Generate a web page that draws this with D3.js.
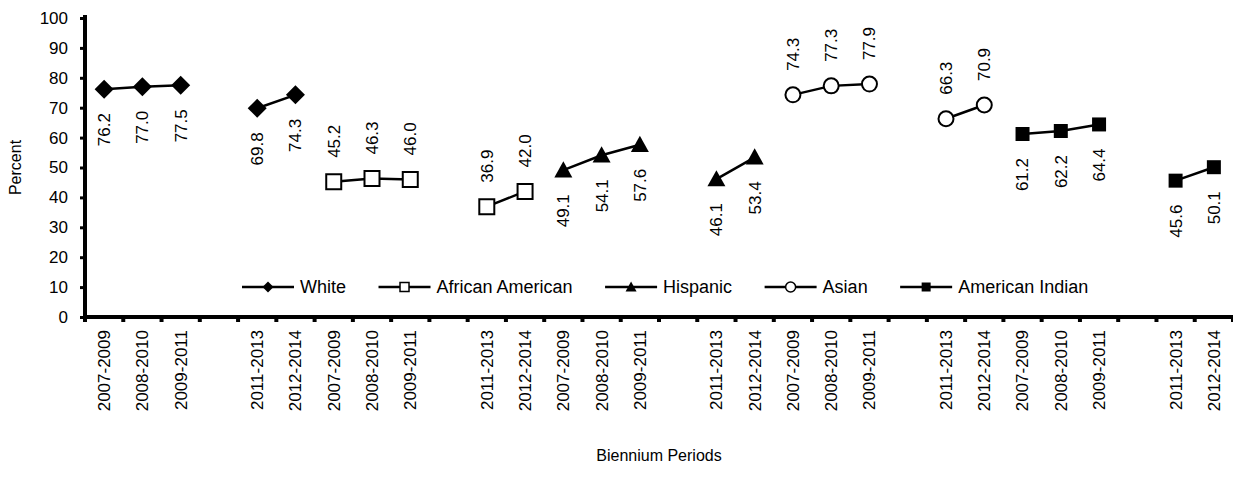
<!DOCTYPE html>
<html>
<head>
<meta charset="utf-8">
<script src="https://cdn.jsdelivr.net/npm/d3@7/dist/d3.min.js"></script>
<style>
  html, body { margin: 0; padding: 0; background: #fff; }
  svg { display: block; font-family: Arial, "Liberation Sans", sans-serif; }
</style>
</head>
<body>
<svg id="chart" width="1233" height="487"></svg>
<script>
// ---------- DATA ----------
const tickLabels = [
  "2007-2009","2008-2010","2009-2011","","2011-2013","2012-2014",
  "2007-2009","2008-2010","2009-2011","","2011-2013","2012-2014",
  "2007-2009","2008-2010","2009-2011","","2011-2013","2012-2014",
  "2007-2009","2008-2010","2009-2011","","2011-2013","2012-2014",
  "2007-2009","2008-2010","2009-2011","","2011-2013","2012-2014"
];
const seriesNames = ["White", "African American", "Hispanic", "Asian", "American Indian"];
const white           = [76.2, 77.0, 77.5, null, 69.8, 74.3];
const africanAmerican = [45.2, 46.3, 46.0, null, 36.9, 42.0];
const hispanic        = [49.1, 54.1, 57.6, null, 46.1, 53.4];
const asian           = [74.3, 77.3, 77.9, null, 66.3, 70.9];
const americanIndian  = [61.2, 62.2, 64.4, null, 45.6, 50.1];
const seriesValues = [white, africanAmerican, hispanic, asian, americanIndian];
const labelSide = ["below", "above", "below", "above", "below"];
const yTicks = [0, 10, 20, 30, 40, 50, 60, 70, 80, 90, 100];

// ---------- LAYOUT ----------
const svg = d3.select("#chart");
const mLeft = 85, mRight = 1233, mTop = 18, mBottom = 317;
const font = 'Arial, "Liberation Sans", sans-serif';

const x = d3.scaleBand().domain(d3.range(tickLabels.length)).range([mLeft, mRight]).padding(0);
const y = d3.scaleLinear().domain([0, 100]).range([mBottom, mTop]);
const bw = x.bandwidth();
const cx = i => x(i) + bw / 2;

// markers
function markerPath(type, s) {
  const p = d3.path();
  if (type === "diamond") {
    p.moveTo(0, -s); p.lineTo(s, 0); p.lineTo(0, s); p.lineTo(-s, 0); p.closePath();
  } else if (type === "square") {
    p.rect(-s, -s, 2 * s, 2 * s);
  } else if (type === "triangle") {
    p.moveTo(0, -s); p.lineTo(s, s * 0.8); p.lineTo(-s, s * 0.8); p.closePath();
  } else if (type === "circle") {
    p.arc(0, 0, s, 0, Math.PI * 2);
  }
  return p.toString();
}
const markerSpec = [
  { type: "diamond", fill: "#000", stroke: "none", size: 9.5, lsize: 5.5, sw: 0 },
  { type: "square", fill: "#fff", stroke: "#000", size: 7.5, lsize: 4.5, sw: 2 },
  { type: "triangle", fill: "#000", stroke: "none", size: 9, lsize: 5.5, sw: 0 },
  { type: "circle", fill: "#fff", stroke: "#000", size: 7.5, lsize: 5, sw: 2 },
  { type: "square", fill: "#000", stroke: "none", size: 7, lsize: 4.5, sw: 0 }
];

// ---------- AXES ----------
const yAxis = d3.axisLeft(y).tickValues(yTicks).tickSize(5).tickPadding(12).tickSizeOuter(0);
const gy = svg.append("g").attr("transform", `translate(${mLeft},0)`).call(yAxis);
gy.select(".domain").attr("stroke", "#000").attr("stroke-width", 4)
  .attr("d", `M0,${y(0) + 2}V${y(100) - 3}`);
gy.selectAll(".tick line").attr("stroke", "#000").attr("stroke-width", 3);
gy.selectAll(".tick text").attr("font-size", 17).attr("font-family", font).attr("fill", "#000");

// x axis line and boundary ticks
const gx = svg.append("g");
gx.append("line").attr("x1", mLeft - 2).attr("x2", mRight).attr("y1", mBottom).attr("y2", mBottom)
  .attr("stroke", "#000").attr("stroke-width", 4);
const boundaries = d3.range(tickLabels.length + 1).map(i => i < tickLabels.length ? x(i) : x.range()[1]);
gx.selectAll("line.bt").data(boundaries).join("line").attr("class", "bt")
  .attr("x1", d => d).attr("x2", d => d).attr("y1", mBottom).attr("y2", mBottom + 5)
  .attr("stroke", "#000").attr("stroke-width", 4);
gx.selectAll("text.xl").data(tickLabels).join("text").attr("class", "xl")
  .attr("transform", (d, i) => `translate(${cx(i)},${mBottom + 13}) rotate(-90)`)
  .attr("text-anchor", "end").attr("dy", "0.35em")
  .attr("font-size", 17).attr("font-family", font).attr("fill", "#000")
  .text(d => d);

// axis titles
svg.append("text").attr("transform", `translate(15,${(mTop + mBottom) / 2}) rotate(-90)`)
  .attr("text-anchor", "middle").attr("dy", "0.35em")
  .attr("font-size", 16).attr("font-family", font).text("Percent");
svg.append("text").attr("x", (mLeft + mRight) / 2).attr("y", 461)
  .attr("text-anchor", "middle")
  .attr("font-size", 16).attr("font-family", font).text("Biennium Periods");

// ---------- SERIES ----------
const line = d3.line().defined(d => d.v != null).x(d => cx(d.i)).y(d => y(d.v));
seriesValues.forEach((vals, s) => {
  const pts = vals.map((v, j) => ({ i: s * 6 + j, v }));
  const g = svg.append("g");
  g.append("path").datum(pts).attr("d", line).attr("fill", "none")
    .attr("stroke", "#000").attr("stroke-width", 2.5);
  const spec = markerSpec[s];
  const valid = pts.filter(d => d.v != null);
  g.selectAll("path.m").data(valid).join("path").attr("class", "m")
    .attr("transform", d => `translate(${cx(d.i)},${y(d.v)})`)
    .attr("d", markerPath(spec.type, spec.size))
    .attr("fill", spec.fill).attr("stroke", spec.stroke).attr("stroke-width", spec.sw);
  g.selectAll("text.dl").data(valid).join("text").attr("class", "dl")
    .attr("transform", d => labelSide[s] === "below"
      ? `translate(${cx(d.i)},${y(d.v) + 24}) rotate(-90)`
      : `translate(${cx(d.i)},${y(d.v) - 24}) rotate(-90)`)
    .attr("text-anchor", labelSide[s] === "below" ? "end" : "start")
    .attr("dy", "0.35em")
    .attr("font-size", 17).attr("font-family", font).attr("fill", "#000")
    .text(d => d.v.toFixed(1));
});

// ---------- LEGEND ----------
const legend = svg.append("g");
let lx = 242;
const ly = 287;
seriesNames.forEach((name, s) => {
  const spec = markerSpec[s];
  legend.append("line").attr("x1", lx).attr("x2", lx + 52).attr("y1", ly).attr("y2", ly)
    .attr("stroke", "#000").attr("stroke-width", 2.5);
  legend.append("path").attr("transform", `translate(${lx + 26},${ly})`)
    .attr("d", markerPath(spec.type, spec.lsize))
    .attr("fill", spec.fill).attr("stroke", spec.stroke).attr("stroke-width", spec.sw ? 1.5 : 0);
  const t = legend.append("text").attr("x", lx + 58).attr("y", ly).attr("dy", "0.35em")
    .attr("font-size", 18).attr("font-family", font).attr("fill", "#000").text(name);
  lx = lx + 58 + t.node().getComputedTextLength() + 32.5;
});
</script>
</body>
</html>
